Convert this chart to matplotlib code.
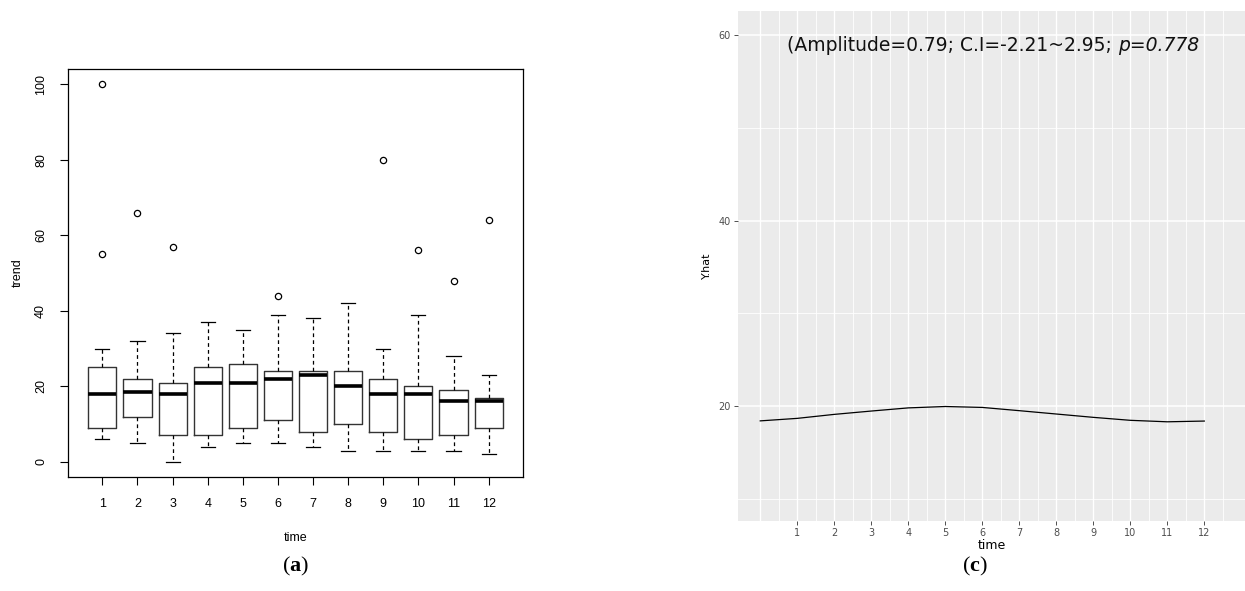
import matplotlib
matplotlib.use("Agg")
import matplotlib.pyplot as plt
import numpy as np

# (a) boxplot stats per month
months = list(range(1, 13))
q1 = [9, 12, 7, 7, 9, 11, 8, 10, 8, 6, 7, 9]
med = [18, 18.5, 18, 21, 21, 22, 23, 20, 18, 18, 16, 16]
q3 = [25, 22, 21, 25, 26, 24, 24, 24, 22, 20, 19, 17]
wlo = [6, 5, 0, 4, 5, 5, 4, 3, 3, 3, 3, 2]
whi = [30, 32, 34, 37, 35, 39, 38, 42, 30, 39, 28, 23]
fliers = [[55, 100], [66], [57], [], [], [44], [], [], [80], [56], [48], [64]]

# (c) fitted cosinor curve
t_fit = [0, 1, 2, 3, 4, 5, 6, 7, 8, 9, 10, 11, 12]
yhat = [18.4, 18.67, 19.1, 19.46, 19.8, 19.95, 19.85, 19.5, 19.14, 18.78, 18.46, 18.3, 18.38]
annot_main = "(Amplitude=0.79; C.I=-2.21~2.95; "
annot_p = "p=0.778"

plt.rcParams["mathtext.fontset"] = "custom"
plt.rcParams["mathtext.rm"] = "Liberation Serif"
plt.rcParams["mathtext.bf"] = "Liberation Serif:bold"

fig = plt.figure(figsize=(12.45, 5.91), dpi=100)

# ---- panel (a): base-R style boxplot
ax1 = fig.add_axes([0.0546, 0.1929, 0.3655, 0.6903])
stats = []
for i in range(12):
    stats.append(dict(med=med[i], q1=q1[i], q3=q3[i], whislo=wlo[i], whishi=whi[i],
                      fliers=fliers[i]))
ax1.bxp(stats, positions=months, widths=0.8, capwidths=0.4,
        boxprops=dict(color="#333333", lw=1.0),
        medianprops=dict(color="black", lw=2.6, solid_capstyle="butt"),
        whiskerprops=dict(color="black", lw=0.9, linestyle=(0, (3, 2.5))),
        capprops=dict(color="black", lw=0.9),
        flierprops=dict(marker="o", markersize=4.5, markerfacecolor="none",
                        markeredgecolor="black", markeredgewidth=0.9))
ax1.set_xlim(0.02, 12.98)
ax1.set_ylim(-4, 104)
ax1.set_yticks([0, 20, 40, 60, 80, 100])
ax1.set_xticks(months)
ax1.set_xticklabels([str(m) for m in months])
for lab in ax1.get_yticklabels():
    lab.set_rotation(90)
    lab.set_va("center")
ax1.tick_params(labelsize=9, length=6, width=0.8, pad=9)
for lab in ax1.get_xticklabels() + ax1.get_yticklabels():
    lab.set_family("Liberation Sans")
for s in ax1.spines.values():
    s.set_linewidth(0.9)
ax1.set_xlabel("time", family="Liberation Sans", fontsize=9, labelpad=16)
ax1.set_ylabel("trend", family="Liberation Sans", fontsize=9, labelpad=8)

# ---- panel (c): ggplot style fitted curve
ax2 = fig.add_axes([0.5928, 0.1184, 0.4072, 0.863])
ax2.set_facecolor("#EBEBEB")
ax2.set_xlim(-0.6, 13.1)
ax2.set_ylim(7.6, 62.6)
for xv in np.arange(0, 12.51, 0.5):
    ax2.axvline(xv, color="white", lw=1.0 if xv % 1 == 0 else 0.6, zorder=0)
for yv in [10, 30, 50]:
    ax2.axhline(yv, color="white", lw=0.6, zorder=0)
for yv in [20, 40, 60]:
    ax2.axhline(yv, color="white", lw=1.1, zorder=0)
ax2.plot(t_fit, yhat, color="black", lw=0.9, zorder=2)
ax2.set_xticks(months)
ax2.set_yticks([20, 40, 60])
ax2.tick_params(labelsize=7, length=3, width=0.6, color="#333333",
                labelcolor="#4D4D4D", pad=2)
for s in ax2.spines.values():
    s.set_visible(False)
ax2.set_xlabel("time", fontsize=9, labelpad=1)
ax2.set_ylabel("Y.hat", fontsize=8, labelpad=5)
t1 = ax2.text(0.73, 58.9, annot_main, fontsize=13.5, family="DejaVu Sans",
              ha="left", va="center", color="#111111")
fig.canvas.draw()
bb = t1.get_window_extent()
ax2.annotate(annot_p, xy=(bb.x1, (bb.y0 + bb.y1) / 2), xycoords="figure pixels",
             fontsize=13.5, family="DejaVu Sans", style="italic",
             ha="left", va="center", color="#111111")

# captions
fig.text(0.237, 0.022, r"($\mathbf{a}$)", family="Liberation Serif", fontsize=16,
         ha="center", va="bottom")
fig.text(0.783, 0.022, r"($\mathbf{c}$)", family="Liberation Serif", fontsize=16,
         ha="center", va="bottom")

fig.savefig("out.png", dpi=100)
